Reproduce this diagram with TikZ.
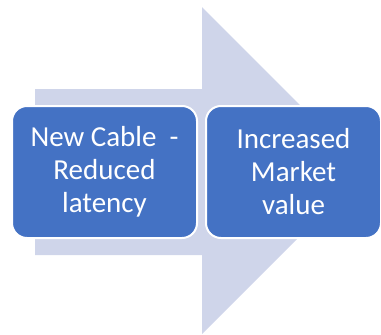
\documentclass[tikz,border=0pt]{standalone}
\usepackage{fontspec}
\setmainfont{Carlito}
\definecolor{arrowfill}{HTML}{CFD5EA}
\definecolor{boxfill}{HTML}{4472C4}
\begin{document}
\begin{tikzpicture}[x=1pt, y=-1pt,
    stagebox/.style={rectangle, rounded corners=15pt, fill=boxfill, draw=white, line width=2pt,
      minimum height=132pt, text=white, align=center, inner sep=0pt,
      font=\fontsize{29}{33}\selectfont}]
        \useasboundingbox (0,0) rectangle (381,335);

        % Background arrow
        \fill[arrowfill] (35,89) -- (202,89) -- (202,7) -- (365.5,170.5)
            -- (202,334) -- (202,255) -- (35,255) -- cycle;

        % Stages
        \node[stagebox, minimum width=185pt] (cable) at (104.5,172) {New Cable\ \ -\\Reduced\\latency};
        \node[stagebox, minimum width=175pt] (market) at (293.5,172) {Increased\\Market\\value};
    \end{tikzpicture}
\end{document}
